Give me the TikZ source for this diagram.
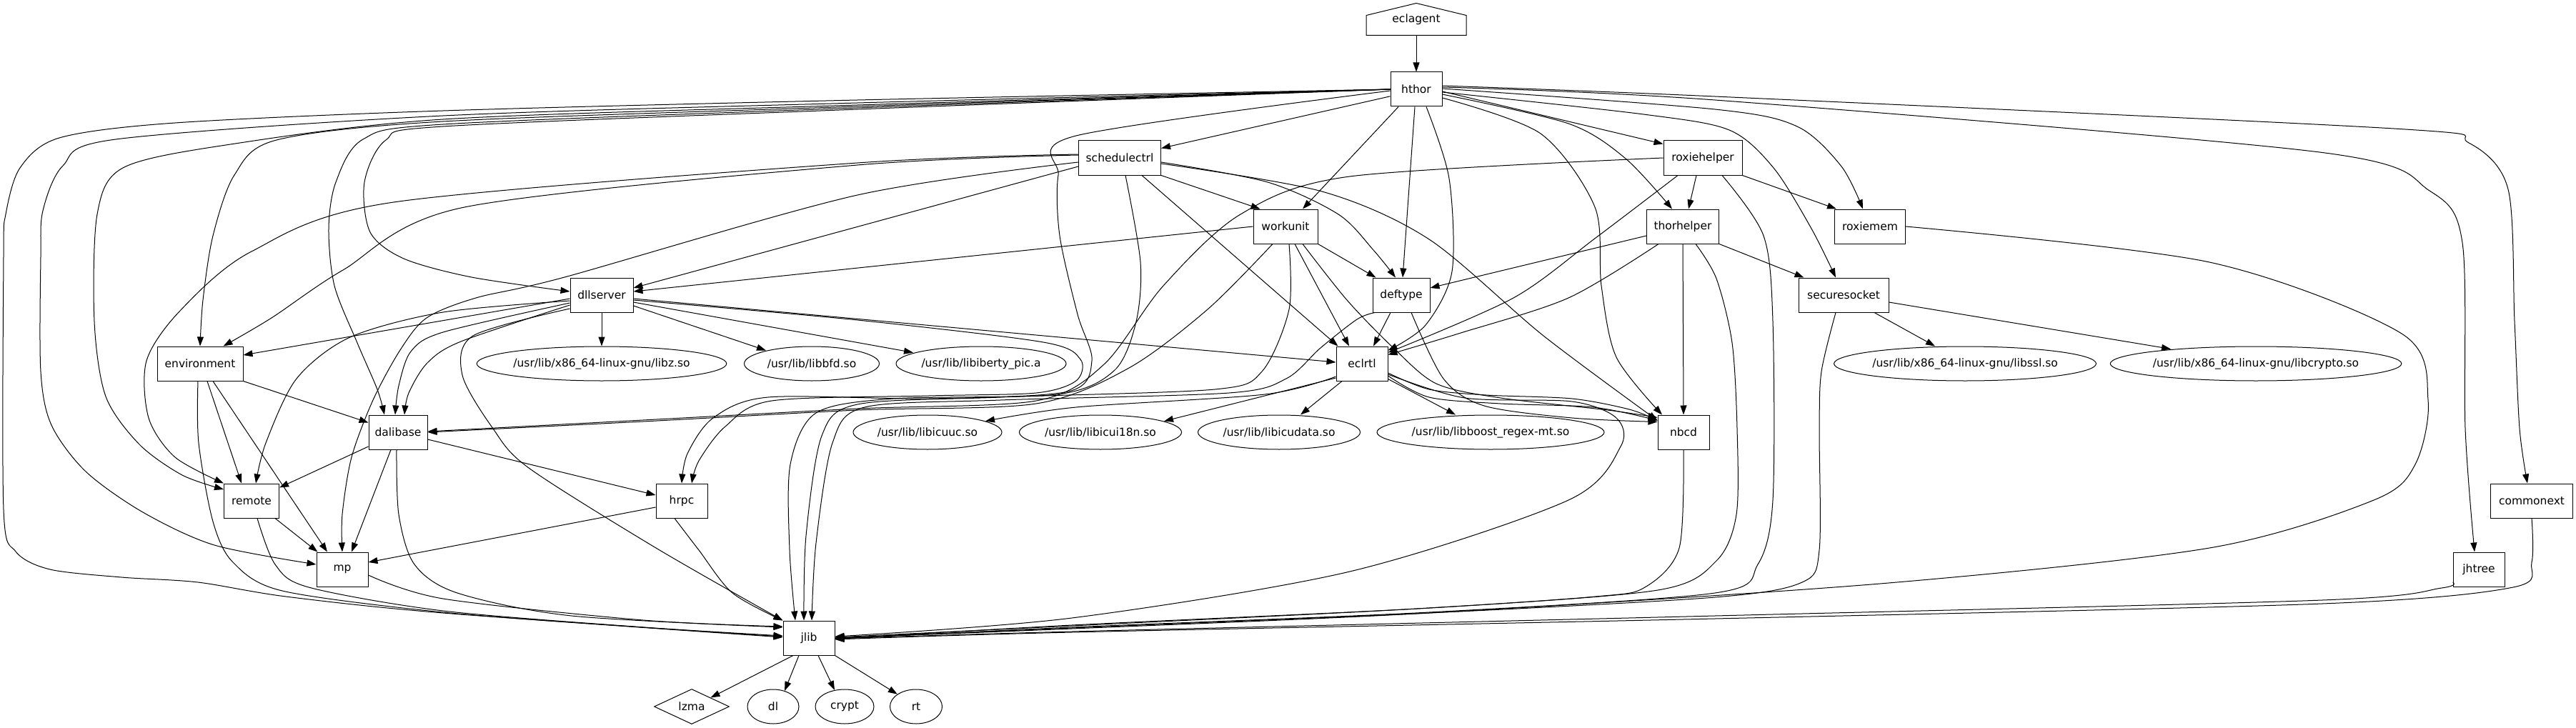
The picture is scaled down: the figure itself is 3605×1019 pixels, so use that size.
\documentclass[tikz,border=0pt]{standalone}
\usepackage{fontspec}
\setmainfont{DejaVu Sans}
\usetikzlibrary{arrows.meta,shapes.geometric}
\begin{document}
\begin{tikzpicture}[x=1pt,y=-1pt,
  lbl/.style={font=\fontsize{15.5}{18}\selectfont, inner sep=0pt, line width=1pt},
  box/.style={lbl, draw, rectangle, minimum height=48pt},
  oval/.style={lbl, draw, ellipse, minimum height=48pt},
  e/.style={line width=1pt, -{Triangle[length=13pt,width=9pt]}},
]
\fill[white] (0,0) rectangle (3605,1019);
\useasboundingbox (0,0) rectangle (3605,1019);

% ---------- nodes ----------
\node[lbl, minimum width=139pt, minimum height=44pt] (eclagent) at (1982,27) {eclagent};
\draw[line width=1pt] (eclagent.south west) -- ([yshift=-17pt]eclagent.north west) -- (eclagent.north) -- ([yshift=-17pt]eclagent.north east) -- (eclagent.south east) -- cycle;
\node[box, minimum width=72pt] (hthor) at (1982,125) {hthor};
\node[box, minimum width=115pt] (schedulectrl) at (1567,221) {schedulectrl};
\node[box, minimum width=110pt] (roxiehelper) at (2383,221) {roxiehelper};
\node[box, minimum width=90pt] (workunit) at (1799,317) {workunit};
\node[box, minimum width=101pt] (thorhelper) at (2355,317) {thorhelper};
\node[box, minimum width=99pt] (roxiemem) at (2617,317) {roxiemem};
\node[box, minimum width=80pt] (deftype) at (1961,413) {deftype};
\node[box, minimum width=126pt] (securesocket) at (2580,413) {securesocket};
\node[box, minimum width=88pt] (dllserver) at (842,413) {dllserver};
\node[box, minimum width=72pt] (eclrtl) at (1906,509) {eclrtl};
\node[box, minimum width=120pt] (environment) at (280,509) {environment};
\node[oval, minimum width=349pt] (libz) at (842,509) {/usr/lib/x86\_64-linux-gnu/libz.so};
\node[oval, minimum width=189pt] (libbfd) at (1136,509) {/usr/lib/libbfd.so};
\node[oval, minimum width=238pt] (libiberty) at (1373,509) {/usr/lib/libiberty\_pic.a};
\node[oval, minimum width=365pt] (libssl) at (2750,509) {/usr/lib/x86\_64-linux-gnu/libssl.so};
\node[oval, minimum width=403pt] (libcrypto) at (3157,509) {/usr/lib/x86\_64-linux-gnu/libcrypto.so};
\node[box, minimum width=82pt] (dalibase) at (557,605) {dalibase};
\node[oval, minimum width=208pt] (libicuuc) at (1298,605) {/usr/lib/libicuuc.so};
\node[oval, minimum width=227pt] (libicui18n) at (1540,605) {/usr/lib/libicui18n.so};
\node[oval, minimum width=227pt] (libicudata) at (1790,605) {/usr/lib/libicudata.so};
\node[oval, minimum width=318pt] (libboost) at (2086,605) {/usr/lib/libboost\_regex-mt.so};
\node[box, minimum width=72pt] (nbcd) at (2356,605) {nbcd};
\node[box, minimum width=77pt] (remote) at (352,701) {remote};
\node[box, minimum width=72pt] (hrpc) at (954,701) {hrpc};
\node[box, minimum width=115pt] (commonext) at (3543,701) {commonext};
\node[box, minimum width=72pt] (mp) at (479,797) {mp};
\node[box, minimum width=72pt] (jhtree) at (3469,797) {jhtree};
\node[box, minimum width=72pt] (jlib) at (1132,893) {jlib};
\node[lbl, draw, diamond, minimum width=105pt, minimum height=48pt] (lzma) at (968,989) {lzma};
\node[oval, minimum width=72pt] (dl) at (1082,989) {dl};
\node[oval, minimum width=82pt] (crypt) at (1182,989) {crypt};
\node[oval, minimum width=73pt] (rt) at (1282,989) {rt};

% ---------- edges ----------
\draw[e] (eclagent.south) -- (hthor.north);

% hthor
\draw[e] (hthor.195) -- ([yshift=-11pt]schedulectrl.north east);
\draw[e] ([xshift=-25pt]hthor.south) -- ([xshift=24pt]workunit.north);
\draw[e] ([xshift=-2pt]hthor.south) -- ([xshift=2pt]deftype.north);
\draw[e] plot[smooth] coordinates {([xshift=14pt]hthor.south) (2028,250) (2032,380) (1995,455) ([yshift=-6pt]eclrtl.north east)};
\draw[e] ([yshift=-3pt]hthor.east) -- ([yshift=-5pt]roxiehelper.north west);
\draw[e] plot[smooth] coordinates {([yshift=-7pt]hthor.east) (2195,173) (2275,222) ([xshift=-15pt]thorhelper.north)};
\draw[e] plot[smooth] coordinates {([yshift=-12pt]hthor.east) (2156,187) (2232,290) (2241,400) (2262,500) ([xshift=-30pt]nbcd.north)};
\draw[e] plot[smooth] coordinates {([yshift=1pt]hthor.east) (2400,153) (2515,177) (2577,233) ([xshift=-10pt]roxiemem.north)};
\draw[e] plot[smooth] coordinates {([yshift=-4pt]hthor.east) (2300,160) (2420,182) (2482,235) (2535,320) ([xshift=-11pt]securesocket.north)};
\draw[e] plot[smooth] coordinates {([yshift=3pt]hthor.east) (2400,140) (3246,213) (3400,267) (3446,340) (3450,600) ([xshift=-6pt]jhtree.north)};
\draw[e] plot[smooth] coordinates {([yshift=5pt]hthor.east) (2400,135) (3350,180) (3455,200) (3510,265) (3519,450) (3526,600) ([xshift=-6pt]commonext.north)};
\draw[e] plot[smooth] coordinates {([yshift=-2pt]hthor.west) (1506,190) (1481,245) (1483,330) (1508,440) (1528,505) (1495,548) (1300,558) (1075,556) (998,585) (962,635) (hrpc.north)};
\draw[e] plot[smooth] coordinates {(hthor.west) (1200,140) (620,155) (245,172) (83,193) (28,235) (8,300) (5,360) (5,713) (22,772) (70,797) (170,808) (277,815) (400,835) (620,858) ([yshift=1pt]jlib.west)};
\draw[e] plot[smooth] coordinates {(hthor.west) (1200,144) (620,162) (162,195) (88,232) (60,295) (57,360) (57,520) (72,595) (120,660) (200,717) (300,763) ([yshift=7pt]mp.west)};
\draw[e] plot[smooth] coordinates {(hthor.west) (1200,147) (620,167) (316,203) (172,235) (136,300) (132,450) (148,555) (195,622) (255,665) ([yshift=16pt]remote.west)};
\draw[e] plot[smooth] coordinates {(hthor.west) (1200,149) (620,170) (387,196) (328,245) (298,330) (284,420) (environment.north)};
\draw[e] plot[smooth] coordinates {(hthor.west) (1200,151) (620,174) (508,195) (470,255) (460,320) (468,400) (500,480) (528,545) ([xshift=-19pt]dalibase.north)};
\draw[e] plot[smooth] coordinates {(hthor.west) (1200,153) (620,177) (540,196) (510,255) (518,325) (565,362) (660,388) ([yshift=5pt]dllserver.west)};

% schedulectrl
\draw[e] (schedulectrl.south east) -- ([xshift=10pt]workunit.north west);
\draw[e] plot[smooth] coordinates {([yshift=-6pt]schedulectrl.east) (1774,255) (1873,300) (1922,350) ([xshift=-8pt]deftype.north)};
\draw[e] ([xshift=31pt]schedulectrl.south) -- ([xshift=3pt]eclrtl.north west);
\draw[e] plot[smooth] coordinates {([yshift=-8pt]schedulectrl.east) (1850,268) (2000,335) (2160,470) ([yshift=-8pt]nbcd.north west)};
\draw[e] plot[smooth] coordinates {([yshift=4pt]schedulectrl.west) (1200,231) (650,290) (480,378) (380,445) ([xshift=-28pt]environment.north east)};
\draw[e] plot[smooth] coordinates {([yshift=5pt]schedulectrl.west) (1200,228) (551,283) (352,352) (252,435) (205,505) (208,585) (245,640) (remote.north west)};
\draw[e] plot[smooth] coordinates {([yshift=-6pt]schedulectrl.west) (1200,273) (790,388) (666,417) (597,445) (560,490) (522,560) (492,640) (479,720) (mp.north)};
\draw[e] ([yshift=-12pt]schedulectrl.west) -- ([yshift=10pt]dllserver.east);
\draw[e] plot[smooth] coordinates {([xshift=8pt]schedulectrl.south) (1596,367) (1590,450) (1560,518) (1480,552) (1250,558) (1142,578) (1106,650) (1105,770) ([xshift=-19pt]jlib.north)};

% workunit
\draw[e] (workunit.west) -- ([yshift=5pt]dllserver.east);
\draw[e] (workunit.south east) -- ([xshift=5pt]deftype.north west);
\draw[e] ([xshift=13pt]workunit.south) -- ([xshift=-18pt]eclrtl.north);
\draw[e] plot[smooth] coordinates {([xshift=24pt]workunit.south) (1885,420) (1950,487) (2010,537) (2100,557) (2250,574) ([yshift=-4pt]nbcd.north west)};
\draw[e] plot[smooth] coordinates {([xshift=-18pt]workunit.south) (1690,433) (1580,515) (1450,565) (1200,574) (900,590) (dalibase.east)};
\draw[e] plot[smooth] coordinates {([xshift=5pt]workunit.south) (1804,433) (1766,520) (1700,545) (1400,556) (1200,566) (1150,610) (1128,750) ([xshift=-7pt]jlib.north)};

% roxiehelper
\draw[e] ([xshift=-9pt]roxiehelper.south) -- ([xshift=8pt]thorhelper.north);
\draw[e] (roxiehelper.south east) -- ([xshift=3pt]roxiemem.north west);
\draw[e] plot[smooth] coordinates {([xshift=-35pt]roxiehelper.south) (2233,333) (2118,417) ([yshift=-9pt]eclrtl.north east)};
\draw[e] plot[smooth] coordinates {(roxiehelper.west) (1889,247) (1736,300) (1628,400) (1545,510) (1450,561) (1200,572) (900,588) ([yshift=1pt]dalibase.east)};
\draw[e] plot[smooth] coordinates {([xshift=27pt]roxiehelper.south) (2468,330) (2481,450) (2481,700) (2460,790) (2400,830) (2000,857) (1500,878) ([yshift=-1pt]jlib.east)};

% thorhelper
\draw[e] ([yshift=-13pt]thorhelper.west) -- ([yshift=10pt]deftype.east);
\draw[e] plot[smooth] coordinates {([xshift=-34pt]thorhelper.south) (2195,417) (2041,467) ([yshift=-12pt]eclrtl.north east)};
\draw[e] (thorhelper.south) -- (nbcd.north);
\draw[e] (thorhelper.south east) -- ([xshift=8pt]securesocket.north west);
\draw[e] plot[smooth] coordinates {([xshift=18pt]thorhelper.south) (2402,390) (2424,480) (2431,600) (2430,720) (2402,785) (2320,826) (2000,851) (1500,876) ([yshift=1pt]jlib.east)};

% roxiemem
\draw[e] plot[smooth] coordinates {(roxiemem.east) (3092,367) (3361,467) (3398,560) (3380,650) (3322,700) (3092,767) (2631,817) (2000,858) (1500,880) (jlib.east)};

% deftype
\draw[e] ([xshift=-15pt]deftype.south) -- ([xshift=16pt]eclrtl.north);
\draw[e] plot[smooth] coordinates {([xshift=14pt]deftype.south) (2020,530) (2077,568) (2200,585) ([yshift=-10pt]nbcd.north west)};
\draw[e] plot[smooth] coordinates {([xshift=-37pt]deftype.south) (1899,447) (1848,487) (1800,530) (1720,550) (1400,560) (1210,570) (1165,620) (1142,760) ([xshift=4pt]jlib.north)};

% securesocket
\draw[e] ([xshift=43pt]securesocket.south) -- ([xshift=-42pt]libssl.north);
\draw[e] ([yshift=-10pt]securesocket.east) -- ([xshift=-119pt,yshift=-4pt]libcrypto.north);
\draw[e] plot[smooth] coordinates {([xshift=-11pt]securesocket.south) (2549,520) (2546,600) (2546,770) (2522,815) (2400,836) (2000,858) (1500,879) (jlib.east)};

% eclrtl
\draw[e] plot[smooth] coordinates {([yshift=-18pt]eclrtl.west) (1770,552) (1506,570) ([xshift=81pt,yshift=-9pt]libicuuc.north)};
\draw[e] ([yshift=-20pt]eclrtl.west) -- ([xshift=89pt,yshift=-9pt]libicui18n.north);
\draw[e] ([xshift=-28pt]eclrtl.south) -- ([xshift=30pt]libicudata.north);
\draw[e] ([yshift=3pt]eclrtl.south east) -- ([xshift=-49pt]libboost.north);
\draw[e] plot[smooth] coordinates {([yshift=-13pt]eclrtl.east) (2000,545) (2080,553) (2200,558) (2280,573) ([yshift=-8pt]nbcd.north west)};
\draw[e] plot[smooth] coordinates {([yshift=-17pt]eclrtl.east) (2000,556) (2100,565) (2230,570) ([yshift=-8pt]nbcd.north west)};
\draw[e] plot[smooth] coordinates {([yshift=-15pt]eclrtl.east) (2050,557) (2200,562) (2262,585) (2268,625) (2195,700) (1889,800) (1500,865) ([yshift=2pt]jlib.east)};

% nbcd
\draw[e] plot[smooth] coordinates {(nbcd.south) (2350,767) (2302,822) (2233,835) (1965,853) (1500,875) ([yshift=-1pt]jlib.east)};

% dllserver
\draw[e] ([yshift=-5pt]dllserver.west) -- ([yshift=12pt]environment.east);
\draw[e] plot[smooth] coordinates {([yshift=-8pt]dllserver.west) (620,437) (490,472) (415,530) (372,620) ([xshift=6pt]remote.north)};
\draw[e] plot[smooth] coordinates {([yshift=-11pt]dllserver.west) (620,465) (575,492) (558,540) ([xshift=-4pt]dalibase.north)};
\draw[e] plot[smooth] coordinates {([yshift=-14pt]dllserver.west) (645,478) (598,508) (572,550) ([xshift=9pt]dalibase.north)};
\draw[e] plot[smooth] coordinates {([yshift=-19pt]dllserver.west) (662,470) (647,525) (690,600) (740,655) (918,767) (jlib.north west)};
\draw[e] (dllserver.south) -- (libz.north);
\draw[e] ([yshift=-15pt]dllserver.east) -- ([xshift=-64pt,yshift=-6pt]libbfd.north);
\draw[e] ([yshift=-10pt]dllserver.east) -- ([xshift=-95pt,yshift=-9pt]libiberty.north);
\draw[e] ([yshift=-5pt]dllserver.east) -- ([yshift=2pt]eclrtl.west);
\draw[e] plot[smooth] coordinates {([yshift=-7pt]dllserver.east) (1200,448) (1460,479) (1512,503) (1506,533) (1450,550) (1300,554) (1080,561) (1015,597) (978,645) ([xshift=14pt]hrpc.north)};

% environment
\draw[e] (environment.south east) -- ([yshift=-11pt]dalibase.north west);
\draw[e] ([xshift=10pt]environment.south) -- ([xshift=-14pt]remote.north);
\draw[e] ([xshift=18pt]environment.south) -- ([xshift=-21pt]mp.north);
\draw[e] plot[smooth] coordinates {([xshift=-3pt]environment.south) (278,620) (298,730) (326,787) (395,827) (620,857) (900,878) ([yshift=3pt]jlib.west)};

% dalibase
\draw[e] ([yshift=-20pt]dalibase.west) -- ([yshift=-6pt]remote.north east);
\draw[e] ([xshift=-10pt]dalibase.south) -- ([xshift=13pt]mp.north);
\draw[e] plot[smooth] coordinates {([xshift=-2pt]dalibase.south) (558,720) (580,790) (640,830) (800,862) ([yshift=15pt]jlib.west)};
\draw[e] ([yshift=-10pt]dalibase.east) -- ([yshift=8pt]hrpc.west);

% remote
\draw[e] ([xshift=33pt]remote.south) -- ([xshift=2pt]mp.north west);
\draw[e] plot[smooth] coordinates {([xshift=8pt]remote.south) (385,790) (432,822) (620,855) (900,878) ([yshift=2pt]jlib.west)};

% mp
\draw[e] plot[smooth] coordinates {([yshift=-8pt]mp.east) (620,838) (900,868) ([yshift=16pt]jlib.west)};

% hrpc
\draw[e] ([yshift=-9pt]hrpc.west) -- ([yshift=10pt]mp.east);
\draw[e] plot[smooth] coordinates {([xshift=-10pt]hrpc.south) (978,770) (1025,830) (jlib.north west)};

% commonext, jhtree
\draw[e] plot[smooth] coordinates {(commonext.south) (3543,787) (3517,822) (3250,845) (2400,866) (1500,885) ([yshift=-2pt]jlib.east)};
\draw[e] plot[smooth] coordinates {([yshift=-18pt]jhtree.west) (3417,823) (3250,840) (2400,862) (1500,884) ([yshift=-1pt]jlib.east)};

% jlib
\draw[e] ([xshift=-22pt]jlib.south) -- (lzma.north east);
\draw[e] ([xshift=-14pt]jlib.south) -- ([xshift=16pt,yshift=-2.5pt]dl.north);
\draw[e] ([xshift=13pt]jlib.south) -- ([xshift=-14pt,yshift=-1.5pt]crypt.north);
\draw[e] (jlib.south east) -- (rt.north west);
\end{tikzpicture}
\end{document}
